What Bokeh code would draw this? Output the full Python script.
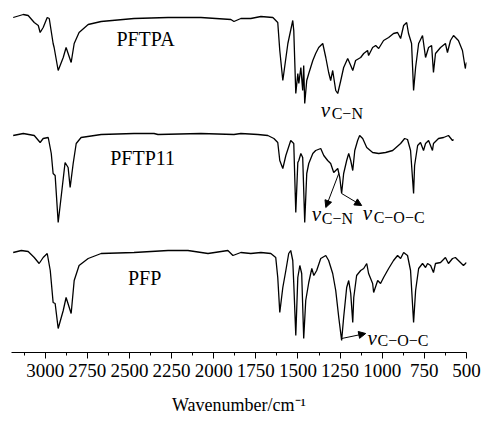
from bokeh.plotting import figure
from bokeh.models import Range1d, FixedTicker, Label, Arrow, NormalHead
from bokeh.embed import file_html
from bokeh.resources import INLINE

# FTIR spectra: wavenumber (cm^-1) and relative transmittance (a.u.)
pftpa_wn = [3190, 3130, 3101, 3065, 3041, 3030, 3012, 2988, 2976, 2953, 2947, 2923, 2893, 2876,
            2846, 2828, 2799, 2745, 2668, 2473, 2271, 2076, 1898, 1880, 1839, 1780, 1720, 1649,
            1620, 1608, 1590, 1560, 1531, 1525, 1513, 1501, 1495, 1483, 1472, 1466, 1460, 1448,
            1436, 1412, 1395, 1377, 1353, 1335, 1318, 1306, 1294, 1276, 1264, 1246, 1229, 1205,
            1187, 1175, 1158, 1128, 1110, 1087, 1081, 1057, 1039, 1021, 992, 962, 933, 909, 891,
            873, 855, 844, 826, 814, 802, 784, 761, 743, 725, 707, 696, 684, 654, 625, 613, 595,
            577, 548, 524, 507, 500]
pftpa_t = [100, 103, 102, 95, 92, 85, 90, 100, 99, 74, 70, 47, 60, 70,
           55, 74, 85, 93, 96, 99, 100, 100, 98, 96, 99, 99, 101, 100,
           95, 67, 37, 74, 97, 87, 24, 44, 34, 50, 27, 52, 14, 37,
           44, 57, 64, 70, 74, 60, 45, 37, 47, 27, 24, 37, 50, 59,
           52, 47, 57, 60, 64, 67, 62, 70, 72, 69, 77, 80, 84, 85, 79,
           92, 95, 84, 74, 27, 50, 74, 82, 60, 70, 72, 45, 64, 70, 74, 65, 77,
           82, 77, 67, 49, 55]

pftp11_wn = [3190, 3130, 3065, 3030, 3012, 2982, 2964, 2953, 2941, 2923, 2899, 2882, 2864, 2852,
             2834, 2816, 2787, 2668, 2473, 2354, 2331, 2076, 1880, 1839, 1738, 1679, 1643, 1620,
             1608, 1590, 1572, 1543, 1525, 1513, 1501, 1495, 1483, 1472, 1460, 1448, 1436, 1412,
             1395, 1365, 1347, 1324, 1306, 1288, 1264, 1252, 1241, 1229, 1211, 1199, 1187, 1175,
             1163, 1146, 1134, 1116, 1092, 1057, 1021, 980, 938, 891, 867, 850, 832, 814, 808,
             790, 773, 755, 743, 725, 702, 696, 666, 636, 607, 583, 577]
pftp11_t = [98, 100, 98, 91, 95, 96, 80, 60, 58, 11, 46, 71, 66, 46,
            70, 90, 96, 99, 100, 100, 99, 100, 99, 100, 99, 98, 95, 91,
            73, 65, 78, 93, 90, 21, 71, 73, 80, 76, 11, 60, 70, 80,
            83, 85, 78, 73, 70, 61, 65, 56, 40, 60, 73, 80, 73, 63,
            83, 93, 98, 95, 86, 81, 80, 81, 83, 90, 95, 94, 83, 40, 68,
            88, 91, 83, 90, 93, 83, 90, 95, 96, 98, 93, 94]

pfp_wn = [3190, 3142, 3101, 3065, 3036, 3012, 2988, 2970, 2953, 2941, 2923, 2893, 2876, 2846,
          2828, 2799, 2745, 2668, 2473, 2271, 2153, 2034, 1916, 1886, 1839, 1780, 1720, 1661,
          1632, 1620, 1608, 1590, 1572, 1555, 1543, 1531, 1525, 1513, 1501, 1489, 1478, 1466,
          1454, 1436, 1418, 1406, 1389, 1365, 1335, 1318, 1294, 1276, 1258, 1241, 1229, 1211,
          1199, 1187, 1175, 1169, 1152, 1128, 1110, 1092, 1081, 1057, 1051, 1027, 1010, 992,
          962, 933, 909, 891, 873, 850, 832, 814, 802, 784, 761, 743, 731, 713, 696, 684, 654,
          625, 607, 583, 566, 536, 518, 500]
pfp_t = [98, 100, 99, 93, 87, 93, 97, 80, 48, 47, 22, 40, 53, 37,
         70, 85, 92, 97, 98, 100, 100, 97, 100, 95, 98, 97, 98, 97,
         93, 73, 38, 63, 80, 97, 100, 90, 67, 15, 73, 85, 77, 12,
         50, 68, 82, 75, 80, 92, 95, 90, 77, 60, 33, 10, 33, 63,
         70, 57, 28, 53, 75, 80, 82, 87, 77, 67, 58, 70, 67, 73,
         82, 90, 95, 92, 98, 95, 80, 28, 60, 82, 87, 83, 87, 85, 78, 87, 88,
         93, 87, 92, 93, 88, 85, 88]

tick_values = [3000, 2750, 2500, 2250, 2000, 1750, 1500, 1250, 1000, 750, 500]
minor_values = [3125, 2875, 2625, 2375, 2125, 1875, 1625, 1375, 1125, 875, 625]

# vertical stacking of the three spectra
offsets = {"PFTPA": 235, "PFTP11": 119, "PFP": 2}

FONT = "Liberation Serif"

p = figure(width=481, height=425, x_range=Range1d(3200, 500), y_range=Range1d(0, 352),
           min_border_left=11, min_border_right=15, min_border_top=0, min_border_bottom=73,
           y_axis_location=None, toolbar_location=None, output_backend="svg")
p.outline_line_color = None
p.xgrid.visible = False
p.ygrid.visible = False

for wn, t, name in [(pftpa_wn, pftpa_t, "PFTPA"), (pftp11_wn, pftp11_t, "PFTP11"), (pfp_wn, pfp_t, "PFP")]:
    p.line(wn, [v + offsets[name] for v in t], line_color="black", line_width=1.3)

ax = p.xaxis[0]
ax.ticker = FixedTicker(ticks=tick_values, minor_ticks=minor_values)
ax.major_tick_in = 0
ax.major_tick_out = 6
ax.minor_tick_in = 0
ax.minor_tick_out = 3
ax.axis_line_color = "black"
ax.major_label_text_font = FONT
ax.major_label_text_font_size = "19px"
ax.major_label_text_color = "black"
ax.major_label_standoff = 5
ax.axis_label = "Wavenumber/cm\u207b\u00b9"
ax.axis_label_text_font = FONT
ax.axis_label_text_font_size = "18px"
ax.axis_label_text_font_style = "normal"
ax.axis_label_text_color = "black"
ax.axis_label_standoff = 15

# sample names
for name, x, y in [("PFTPA", 2405, 314), ("PFTP11", 2422, 195), ("PFP", 2410, 75)]:
    p.add_layout(Label(x=x, y=y, text=name, text_align="center", text_baseline="alphabetic",
                       text_font=FONT, text_font_size="20px", text_color="black"))


def vib_label(x_v, y_v, x_s, y_s, sub):
    p.add_layout(Label(x=x_v, y=y_v, text="v", text_baseline="alphabetic", text_font=FONT,
                       text_font_style="italic", text_font_size="21px", text_color="black"))
    p.add_layout(Label(x=x_s, y=y_s, text=sub, text_baseline="alphabetic", text_font=FONT,
                       text_font_size="16px", text_color="black"))


vib_label(1365, 243, 1300, 239, "C\u2212N")
vib_label(1418, 139, 1359, 134, "C\u2212N")
vib_label(1116, 140, 1051, 135, "C\u2212O\u2212C")
vib_label(1087, 15, 1028, 12, "C\u2212O\u2212C")

for xs, ys, xe, ye in [(1258, 179, 1335, 145), (1241, 159, 1122, 147), (1241, 14, 1098, 19)]:
    p.add_layout(Arrow(x_start=xs, y_start=ys, x_end=xe, y_end=ye, line_width=1,
                       end=NormalHead(size=7, fill_color="black", line_color="black")))

open("out.html", "w").write(file_html(p, INLINE))
